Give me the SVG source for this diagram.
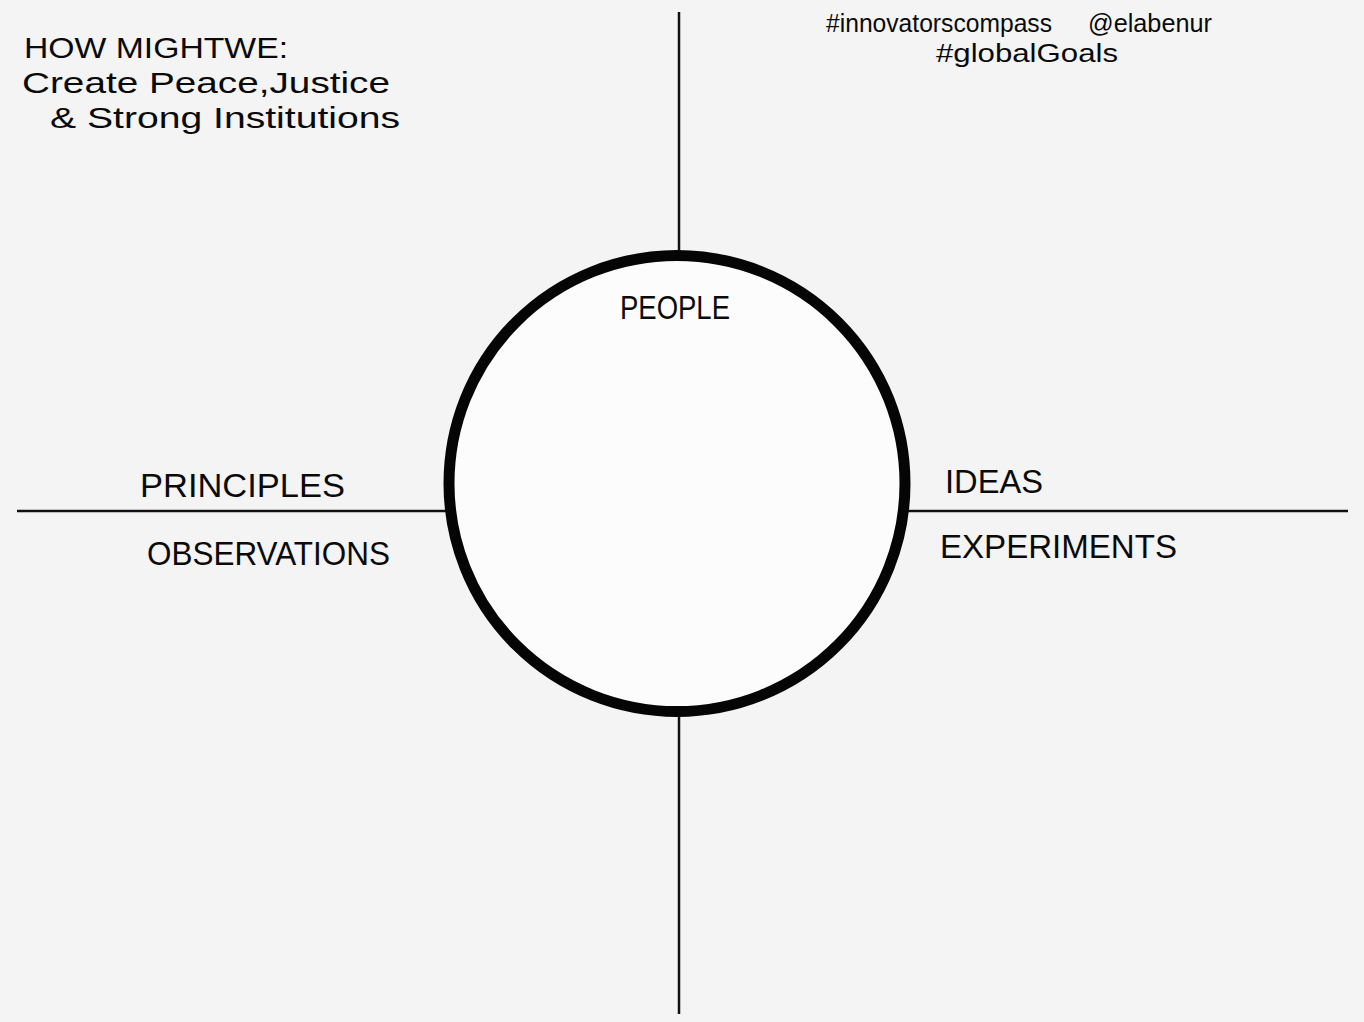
<svg xmlns="http://www.w3.org/2000/svg" width="1364" height="1022" viewBox="0 0 1364 1022">
<style>
.bg{fill:#f4f4f4}
.axis{stroke:#111;stroke-width:2.5;fill:none}
.ring{fill:#fdfcfd;stroke:#050505;stroke-width:11}
.hand{font-family:"Liberation Sans Narrow","Liberation Sans",Arial,sans-serif;fill:#0a0a0a;font-weight:normal}
.cap{font-size:34px}
.title{font-size:30px}
.tag{font-size:25px}
</style>
<rect class="bg" x="0" y="0" width="1364" height="1022"/>
<g id="connectors">
<line class="axis" x1="679" y1="12" x2="679" y2="252"/>
<line class="axis" x1="679" y1="714" x2="679" y2="1014"/>
<line class="axis" x1="17" y1="511" x2="446" y2="511"/>
<line class="axis" x1="908" y1="511" x2="1348" y2="511"/>
</g>
<g id="people">
<circle class="ring" cx="677" cy="483.5" r="228"/>
<text class="hand cap" x="620" y="319" textLength="110" lengthAdjust="spacingAndGlyphs">PEOPLE</text>
</g>
<g id="title">
<text class="hand title" x="24" y="58" textLength="264" lengthAdjust="spacingAndGlyphs">HOW MIGHTWE:</text>
<text class="hand title" x="22" y="93" textLength="368" lengthAdjust="spacingAndGlyphs">Create Peace,Justice</text>
<text class="hand title" x="50" y="128" textLength="350" lengthAdjust="spacingAndGlyphs">&amp; Strong Institutions</text>
</g>
<g id="tags">
<text class="hand tag" x="826" y="32" textLength="226" lengthAdjust="spacingAndGlyphs">#innovatorscompass</text>
<text class="hand tag" x="1088" y="32" textLength="124" lengthAdjust="spacingAndGlyphs">@elabenur</text>
<text class="hand tag" x="936" y="62" textLength="182" lengthAdjust="spacingAndGlyphs">#globalGoals</text>
</g>
<g id="principles">
<text class="hand cap" x="140" y="497" textLength="205" lengthAdjust="spacingAndGlyphs">PRINCIPLES</text>
</g>
<g id="observations">
<text class="hand cap" x="147" y="565" textLength="243" lengthAdjust="spacingAndGlyphs">OBSERVATIONS</text>
</g>
<g id="ideas">
<text class="hand cap" x="945" y="493" textLength="98" lengthAdjust="spacingAndGlyphs">IDEAS</text>
</g>
<g id="experiments">
<text class="hand cap" x="940" y="558" textLength="237" lengthAdjust="spacingAndGlyphs">EXPERIMENTS</text>
</g>
</svg>
